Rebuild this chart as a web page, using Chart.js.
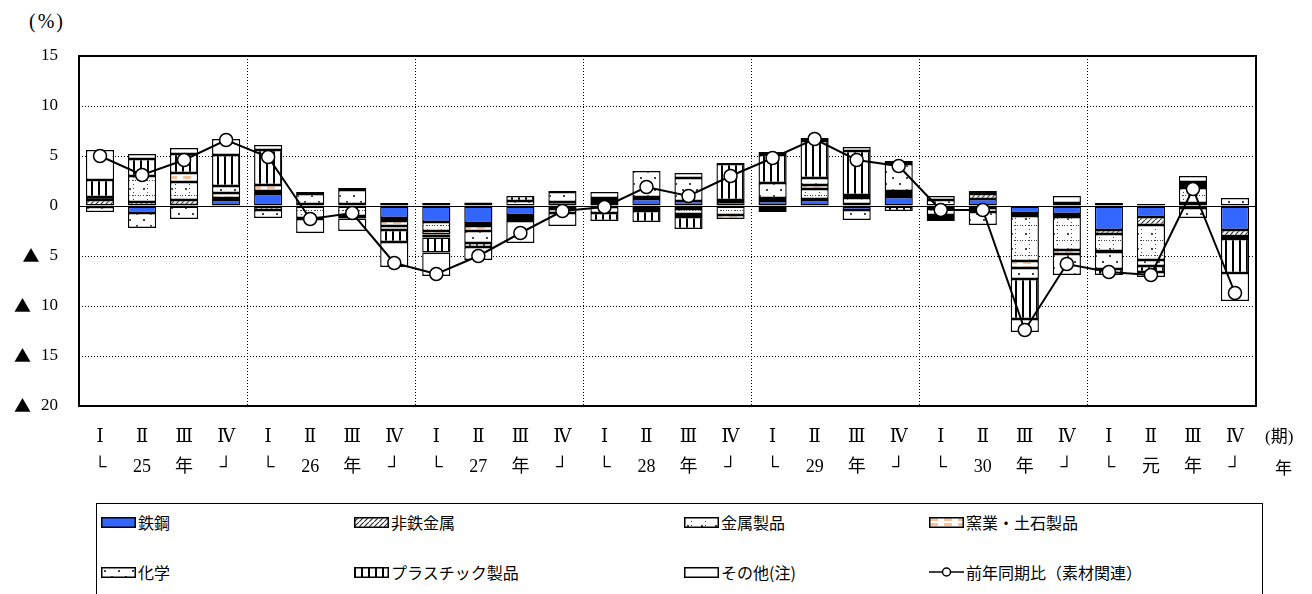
<!DOCTYPE html>
<html lang="ja">
<head>
<meta charset="utf-8">
<script src="https://cdn.jsdelivr.net/npm/chart.js@4.4.1/dist/chart.umd.min.js"></script>
<style>
  body { margin: 0; width: 1312px; height: 594px; overflow: hidden; background: #fff; position: relative;
         font-family: "Liberation Serif", "DejaVu Serif", "Noto Sans CJK JP", serif; color: #000; }
  #wrap { position: absolute; left: 0; top: 0; width: 1312px; height: 500px; }
  .txt { position: absolute; font-size: 17px; line-height: 20px; white-space: nowrap; }
  #legend { position: absolute; left: 96px; top: 503px; width: 1167px; height: 120px; border: 1px solid #000; box-sizing: border-box; }
  .item { position: absolute; display: flex; align-items: center; font-size: 16px; height: 20px; white-space: nowrap;
          font-family: "Noto Sans CJK JP", "Liberation Serif", serif; }
  .item canvas { margin-right: 2px; }
</style>
</head>
<body>
<div class="txt" style="left:29px; top:11px; font-size:20px; letter-spacing:2px;">(%)</div>
<div id="wrap"><canvas id="c"></canvas></div>
<div class="txt" style="left:1265px; top:427px;">(期)</div>
<div class="txt" style="left:1275px; top:457px; font-family:'Noto Sans CJK JP';">年</div>
<div id="legend"></div>
<script>
// ===== DATOS =====
const quarterLabels = ['Ⅰ','Ⅱ','Ⅲ','Ⅳ','Ⅰ','Ⅱ','Ⅲ','Ⅳ','Ⅰ','Ⅱ','Ⅲ','Ⅳ','Ⅰ','Ⅱ','Ⅲ','Ⅳ','Ⅰ','Ⅱ','Ⅲ','Ⅳ','Ⅰ','Ⅱ','Ⅲ','Ⅳ','Ⅰ','Ⅱ','Ⅲ','Ⅳ'];
const yearLabels = ['└','25','年','┘','└','26','年','┘','└','27','年','┘','└','28','年','┘',
                    '└','29','年','┘','└','30','年','┘','└','元','年','┘'];

const tekko    = [-0.1,-0.7, 0.1, 0.6, 1.2, 0.1, 0.1,-1.2,-1.6,-1.7,-0.9, 0.4, 0.2, 0.7, 0.5, 0.4, 0.5, 0.6,-0.4, 0.9,-0.2, 0.7,-0.7,-0.8,-2.4,-1.1,-0.2,-2.4];
const hitetsu  = [ 0.6, 0.4, 0.5, 0.0,-0.4, 0.1, 0.1,-0.3, 0.3, 0.35,-0.3,-0.2, 0.3,-0.2,-0.3, 0.1,-0.3, 0.1, 0.2, 0.2,-0.1, 0.5,-0.3,-0.3,-0.4,-0.8, 0.3,-0.6];
const kinzoku  = [ 0.3, 2.6, 1.8, 0.2, 0.3,-1.2,-1.0, 0.3,-0.9,-0.3,-0.2,-0.1, 0.3, 0.2,-0.5,-0.9,-0.3, 1.0, 0.6, 0.2,-0.6,-0.2,-4.5,-3.3,-1.7,-3.5, 1.5,-0.2];
const yogyo    = [ 0.0, 0.0, 0.9, 0.5, 0.6,-0.1,-0.25,-0.5,-0.35,-0.5,-0.1,-0.4,-0.1,-0.3,-0.3,-0.4, 0.3, 0.4, 0.3, 0.2,-0.3,-0.4,-0.7,-0.4,-0.1, 0.2, 0.3,-0.1];
const kagaku   = [-0.5,-1.5,-1.3, 0.7,-0.8, 1.0, 1.4,-0.4,-0.3,-1.2, 0.5, 1.0,-0.6, 2.6, 2.3, 0.1, 1.5, 0.7,-1.0, 2.7, 0.6,-1.3,-1.1,-2.1,-1.7,-0.6,-1.0, 0.8];
const plastic  = [ 1.7, 1.7, 1.9, 3.1, 3.5, 0.2, 0.2,-1.2,-1.5,-0.4, 0.5, 0.1,-0.8,-1.1,-1.2, 3.6, 2.8, 3.7, 4.4,-0.5,-0.3, 0.0,-4.0, 0.3,-0.6,-0.6, 0.3,-3.4];
const sonota   = [ 3.0, 0.5, 0.6, 1.6, 0.5,-1.4,-1.25,-2.5,-2.35,-1.3,-2.2,-1.3, 0.6, 0.0, 0.5, 0.1, 0.3, 0.3, 0.4, 0.3, 0.4, 0.3,-1.3, 0.7, 0.3,-0.5, 0.6,-2.8];
const zennen   = [ 5.0, 3.1, 4.6, 6.6, 4.9,-1.3,-0.7,-5.7,-6.8,-5.0,-2.7,-0.5,-0.1, 1.9, 1.0, 3.0, 4.8, 6.7, 4.6, 4.0,-0.4,-0.4,-12.4,-5.8,-6.6,-6.9, 1.7,-8.7];

const yTicks = [15, 10, 5, 0, -5, -10, -15, -20];

// ===== PATRONES =====
function patron(ctx, w, h, dibujar) {
    const c = document.createElement('canvas');
    c.width = w; c.height = h;
    const g = c.getContext('2d');
    g.fillStyle = '#fff';
    g.fillRect(0, 0, w, h);
    dibujar(g);
    return ctx.createPattern(c, 'repeat');
}

function crearRellenos(ctx) {
    return {
        tekko: '#3366ff',
        hitetsu: patron(ctx, 5, 5, g => {
            g.strokeStyle = '#333'; g.lineWidth = 1.2;
            g.beginPath(); g.moveTo(-1, 6); g.lineTo(6, -1); g.stroke();
        }),
        kinzoku: patron(ctx, 14, 15, g => {
            g.fillStyle = '#444';
            for (let x = 0; x < 14; x += 3) g.fillRect(x, 0, 1, 1);
            for (let y = 0; y < 15; y += 4) g.fillRect(7, y, 1, 1);
            g.fillRect(3, 8, 2, 2);
        }),
        yogyo: patron(ctx, 14, 5, g => {
            g.fillStyle = '#f8c29a';
            g.fillRect(1, 1, 8, 3);
        }),
        kagaku: patron(ctx, 14, 12, g => {
            g.fillStyle = '#444';
            g.fillRect(3, 3, 2, 2);
            g.fillRect(10, 9, 2, 2);
        }),
        plastic: patron(ctx, 7, 4, g => {
            g.fillStyle = '#000';
            g.fillRect(0, 0, 2, 4);
        }),
        sonota: '#ffffff'
    };
}

// ===== GRÁFICO =====
const canvas = document.getElementById('c');
const ctx = canvas.getContext('2d');
const rell = crearRellenos(ctx);

const series = [
    { label: '鉄鋼', data: tekko, fill: 'tekko' },
    { label: '非鉄金属', data: hitetsu, fill: 'hitetsu' },
    { label: '金属製品', data: kinzoku, fill: 'kinzoku' },
    { label: '窯業・土石製品', data: yogyo, fill: 'yogyo' },
    { label: '化学', data: kagaku, fill: 'kagaku' },
    { label: 'プラスチック製品', data: plastic, fill: 'plastic' },
    { label: 'その他(注)', data: sonota, fill: 'sonota' }
];

const fuenteX = '"Liberation Serif", "DejaVu Serif", "Noto Sans CJK JP", serif';
const fuenteNum = '17px "Liberation Serif", serif';
const fuenteTri = '17px "Noto Sans CJK JP", sans-serif';

const marco = {
    id: 'marco',
    beforeDatasetsDraw(chart) {
        const { ctx, chartArea: a, scales: { y } } = chart;
        const y0 = Math.round(y.getPixelForValue(0)) + 0.5;
        ctx.save();
        ctx.strokeStyle = '#000';
        ctx.lineWidth = 1.2;
        ctx.beginPath(); ctx.moveTo(a.left, y0); ctx.lineTo(a.right, y0); ctx.stroke();
        ctx.restore();
    },
    afterDraw(chart) {
        const { ctx, chartArea: a, scales: { y } } = chart;
        ctx.save();
        ctx.strokeStyle = '#000';
        ctx.lineWidth = 2;
        ctx.strokeRect(a.left, a.top, a.right - a.left, a.bottom - a.top);

        // etiquetas del eje Y: ▲ para negativos
        ctx.fillStyle = '#000';
        ctx.textBaseline = 'middle';
        ctx.textAlign = 'right';
        const xDer = a.left - 21;
        y.ticks.forEach(t => {
            const py = y.getPixelForValue(t.value);
            const num = String(Math.abs(t.value));
            ctx.font = fuenteNum;
            ctx.fillText(num, xDer, py);
            if (t.value < 0) {
                const w = ctx.measureText(num).width;
                ctx.font = fuenteTri;
                ctx.fillText('▲', xDer - w - 10, py);
            }
        });
        ctx.restore();
    }
};

new Chart(ctx, {
    type: 'bar',
    data: {
        labels: quarterLabels.map((q, i) => [q, yearLabels[i]]),
        datasets: [
            {
                type: 'line',
                label: '前年同期比（素材関連）',
                data: zennen,
                stack: 'linea',
                order: 0,
                borderColor: '#000',
                borderWidth: 2,
                tension: 0,
                pointRadius: 6.5,
                pointBackgroundColor: '#fff',
                pointBorderColor: '#000',
                pointBorderWidth: 1.5
            },
            ...series.map(s => ({
                label: s.label,
                data: s.data,
                stack: 'barras',
                order: 1,
                backgroundColor: rell[s.fill],
                borderColor: '#000',
                borderWidth: 1.4,
                borderSkipped: false,
                categoryPercentage: 1,
                barPercentage: 0.67
            }))
        ]
    },
    options: {
        responsive: true,
        maintainAspectRatio: false,
        animation: false,
        layout: { padding: { top: 56, right: 56, left: 0, bottom: 0 } },
        plugins: { legend: { display: false }, tooltip: { enabled: false } },
        scales: {
            x: {
                stacked: true,
                grid: {
                    offset: true,
                    drawTicks: false,
                    color: c => (c.index > 0 && c.index % 4 === 0) ? '#000' : 'transparent',
                    lineWidth: 1
                },
                border: { display: false, dash: [1, 2] },
                ticks: {
                    autoSkip: false,
                    maxRotation: 0,
                    padding: 16,
                    color: '#000',
                    font: { family: fuenteX, size: 18, lineHeight: '30px' }
                },
                afterFit: s => { s.height = 94; }
            },
            y: {
                stacked: true,
                min: Math.min(...yTicks),
                max: Math.max(...yTicks),
                afterBuildTicks: s => { s.ticks = yTicks.map(v => ({ value: v })); },
                grid: {
                    drawTicks: false,
                    color: c => (c.tick && c.tick.value !== 0 && c.tick.value !== 15 && c.tick.value !== -20) ? '#000' : 'transparent',
                    lineWidth: 1
                },
                border: { display: false, dash: [1, 2] },
                ticks: {
                    padding: 20,
                    color: 'transparent',
                    font: { family: fuenteX, size: 17 },
                    callback: v => v < 0 ? '▲ ' + Math.abs(v) : String(v)
                },
                afterFit: s => { s.width = 79; }
            }
        }
    },
    plugins: [marco]
});

// ===== LEYENDA =====
const leyenda = document.getElementById('legend');
const posiciones = [
    [4, 8], [257, 8], [587, 8], [832, 8],
    [4, 58], [257, 58], [587, 58]
];

function muestra(clave) {
    const c = document.createElement('canvas');
    c.width = 35; c.height = 11;
    const g = c.getContext('2d');
    g.fillStyle = crearRellenos(g)[clave];
    g.fillRect(0, 0, 35, 11);
    g.strokeStyle = '#000';
    g.lineWidth = 1.5;
    g.strokeRect(0.75, 0.75, 33.5, 9.5);
    return c;
}

series.forEach((s, n) => {
    const d = document.createElement('div');
    d.className = 'item';
    d.style.left = posiciones[n][0] + 'px';
    d.style.top = posiciones[n][1] + 'px';
    d.appendChild(muestra(s.fill));
    d.appendChild(document.createTextNode(s.label));
    leyenda.appendChild(d);
});

// línea
(function () {
    const d = document.createElement('div');
    d.className = 'item';
    d.style.left = '832px';
    d.style.top = '58px';
    const c = document.createElement('canvas');
    c.width = 35; c.height = 12;
    const g = c.getContext('2d');
    g.strokeStyle = '#000'; g.lineWidth = 1.5;
    g.beginPath(); g.moveTo(0, 6); g.lineTo(35, 6); g.stroke();
    g.fillStyle = '#fff';
    g.beginPath(); g.arc(17.5, 6, 4, 0, Math.PI * 2); g.fill(); g.stroke();
    d.appendChild(c);
    d.appendChild(document.createTextNode('前年同期比（素材関連）'));
    leyenda.appendChild(d);
})();
</script>
</body>
</html>
